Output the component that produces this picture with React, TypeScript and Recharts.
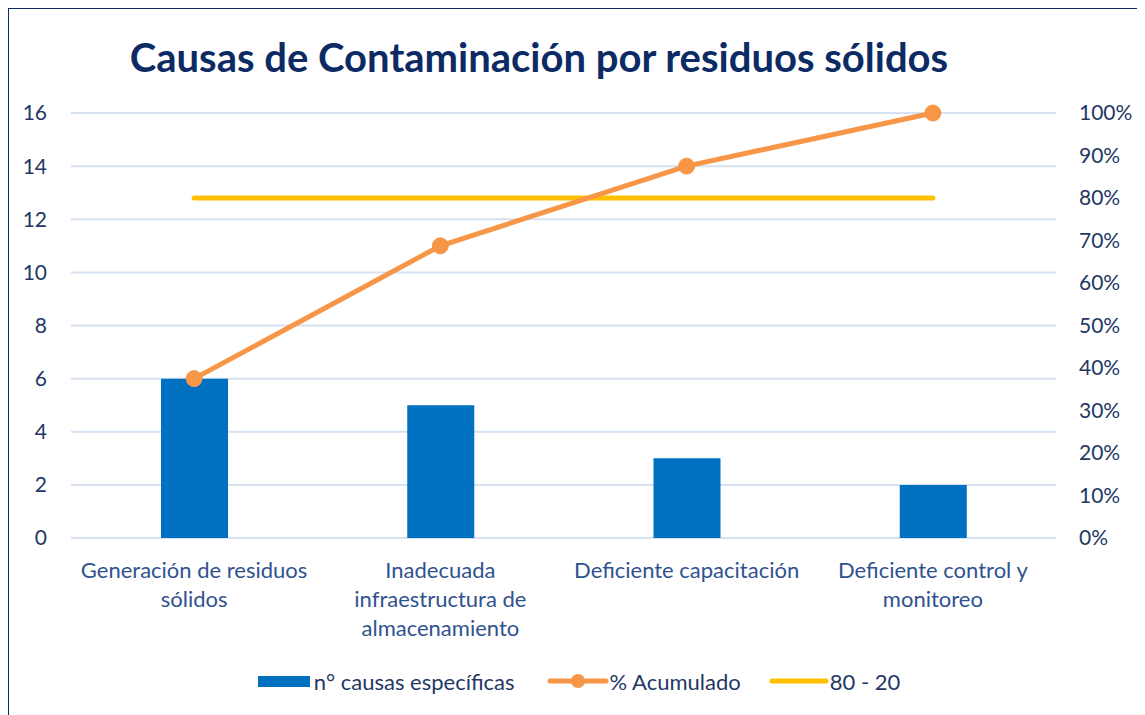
import { ComposedChart, Bar, Line, XAxis, YAxis, CartesianGrid, Legend } from 'recharts'

const categories = [
  'Generación de residuos sólidos',
  'Inadecuada infraestructura de almacenamiento',
  'Deficiente capacitación',
  'Deficiente control y monitoreo',
]
const categoryLines = [
  ['Generación de residuos', 'sólidos'],
  ['Inadecuada', 'infraestructura de', 'almacenamiento'],
  ['Deficiente capacitación'],
  ['Deficiente control y', 'monitoreo'],
]
const causas = [6, 5, 3, 2]
const acumulado = [37.5, 68.75, 87.5, 100]
const pareto = [80, 80, 80, 80]
const leftTicks = [0, 2, 4, 6, 8, 10, 12, 14, 16]
const rightTicks = [0, 10, 20, 30, 40, 50, 60, 70, 80, 90, 100]

const NAVY = '#1F3864'
const FONT = 'Lato, "Noto Sans", sans-serif'

const data = categories.map((c, i) => ({
  name: c,
  causas: causas[i],
  acumulado: acumulado[i],
  pareto: pareto[i],
}))

function CategoryTick(props: any) {
  const { x, y, index } = props
  const lines = categoryLines[index] || []
  return (
    <g>
      {lines.map((l, i) => (
        <text
          key={i}
          x={x}
          y={y + 23 + i * 29}
          textAnchor="middle"
          dominantBaseline="central"
          fill="#2F528F"
          fontSize={22}
          fontFamily={FONT}
        >
          {l}
        </text>
      ))}
    </g>
  )
}

function LegendContent() {
  const txt = { color: NAVY, fontSize: 22, fontFamily: FONT, marginLeft: 4 }
  return (
    <div style={{ display: 'flex', justifyContent: 'center', alignItems: 'center', height: 40, paddingLeft: 4 }}>
      <div style={{ display: 'flex', alignItems: 'center' }}>
        <span style={{ width: 52, height: 11, background: '#0070C0', display: 'inline-block' }} />
        <span style={txt}>n° causas específicas</span>
      </div>
      <div style={{ display: 'flex', alignItems: 'center', marginLeft: 32 }}>
        <svg width={62} height={20}>
          <line x1={3} y1={10} x2={59} y2={10} stroke="#F79646" strokeWidth={5} strokeLinecap="round" />
          <circle cx={31} cy={10} r={7} fill="#F79646" />
        </svg>
        <span style={{ ...txt, marginLeft: 1 }}>% Acumulado</span>
      </div>
      <div style={{ display: 'flex', alignItems: 'center', marginLeft: 28 }}>
        <svg width={60} height={20}>
          <line x1={3} y1={10} x2={57} y2={10} stroke="#FFC000" strokeWidth={5} strokeLinecap="round" />
        </svg>
        <span style={{ ...txt, marginLeft: 1 }}>80 - 20</span>
      </div>
    </div>
  )
}

export default function App() {
  return (
    <div style={{ position: 'relative', width: 1137, height: 707, overflow: 'hidden' }}>
      <div
        style={{
          position: 'absolute',
          left: -1,
          top: -1,
          width: 1160,
          height: 740,
          border: '2px solid #0C2A63',
          background: '#fff',
        }}
      >
        <div
          style={{
            position: 'absolute',
            top: 24,
            left: 0,
            width: 1060,
            textAlign: 'center',
            color: '#0C2A63',
            fontFamily: FONT,
            fontWeight: 700,
            fontSize: 40,
            lineHeight: '48px',
          }}
        >
          Causas de Contaminación por residuos sólidos
        </div>
        <ComposedChart
          width={1136}
          height={692}
          data={data}
          margin={{ top: 104, right: 0, bottom: 0, left: 0 }}
        >
          <CartesianGrid yAxisId="left" vertical={false} stroke="#D6E1F2" strokeWidth={2} />
          <XAxis
            dataKey="name"
            axisLine={false}
            tickLine={false}
            interval={0}
            height={123}
            tick={<CategoryTick />}
          />
          <YAxis
            yAxisId="left"
            domain={[0, 16]}
            ticks={leftTicks}
            width={62}
            axisLine={false}
            tickLine={false}
            tickMargin={18}
            tick={{ fill: NAVY, fontSize: 21, fontFamily: FONT }}
          />
          <YAxis
            yAxisId="right"
            orientation="right"
            domain={[0, 100]}
            ticks={rightTicks}
            width={89}
            axisLine={false}
            tickLine={false}
            tickMargin={17}
            tickFormatter={v => `${v}%`}
            tick={{ fill: NAVY, fontSize: 21, fontFamily: FONT, textAnchor: 'start' }}
          />
          <Legend verticalAlign="bottom" height={40} content={<LegendContent />} />
          <Bar yAxisId="left" dataKey="causas" fill="#0070C0" barSize={67} isAnimationActive={false} />
          <Line
            yAxisId="right"
            dataKey="pareto"
            stroke="#FFC000"
            strokeWidth={5}
            strokeLinecap="round"
            dot={false}
            activeDot={false}
            isAnimationActive={false}
          />
          <Line
            yAxisId="right"
            dataKey="acumulado"
            stroke="#F79646"
            strokeWidth={5}
            strokeLinecap="round"
            dot={{ r: 8, fill: '#F79646', stroke: '#F79646', strokeWidth: 1 }}
            activeDot={false}
            isAnimationActive={false}
          />
        </ComposedChart>
      </div>
    </div>
  )
}
